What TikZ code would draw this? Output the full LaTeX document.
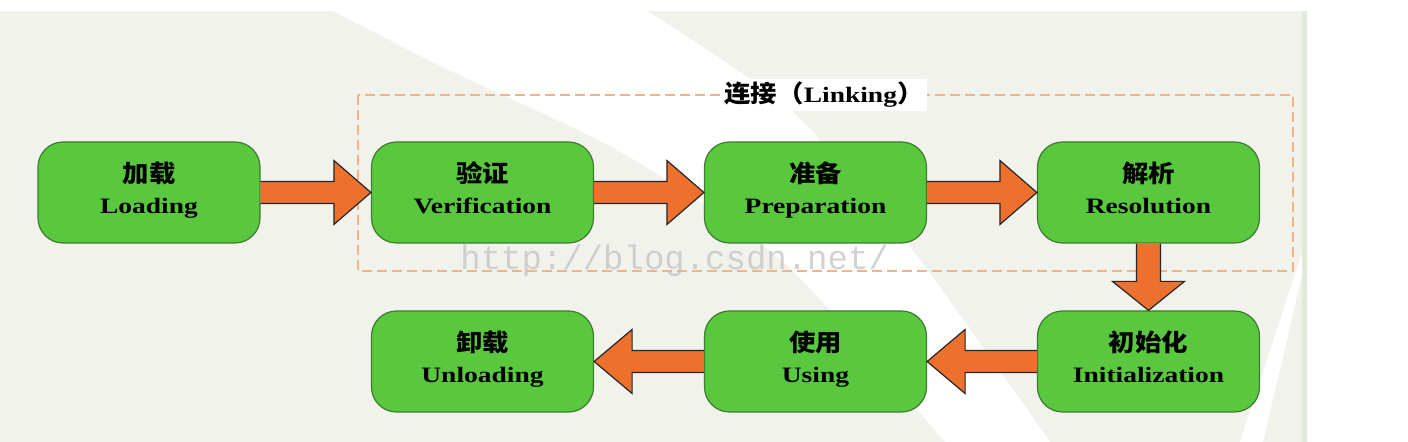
\documentclass[tikz,border=0pt]{standalone}
\usepackage{fontspec}
\usepackage{tikz}
\usetikzlibrary{calc}
\setmainfont{Liberation Serif}
\newfontfamily\boxfont{Liberation Serif}[FakeStretch=1.25]
\newfontfamily\cjk{Noto Sans CJK SC}[FakeStretch=1.1]
\newfontfamily\markfont{Liberation Mono}
\newcommand\zh[1]{{\cjk\fontsize{12}{15.5}\selectfont #1}}
\definecolor{StageGreen}{RGB}{90,200,62}
\definecolor{StageBorder}{RGB}{60,125,45}
\definecolor{ArrowOrange}{RGB}{238,112,45}
\definecolor{LinkDash}{RGB}{245,178,130}
\definecolor{PanelGray}{RGB}{242,242,237}
\definecolor{PanelEdge}{RGB}{224,234,216}

\begin{document}
\begin{tikzpicture}[x=0.5pt, y=-0.5pt,
    stage/.style={draw=StageBorder, fill=StageGreen, line width=0.6pt, rounded corners=12.5pt,
        minimum width=111pt, minimum height=50.5pt, inner sep=0pt, align=center,
        font=\boxfont\bfseries\fontsize{11}{15.5}\selectfont,
        execute at begin node=\strut, execute at end node=\strut},
    blockarrow/.style={draw=black!85, fill=ArrowOrange, line width=0.6pt, line join=miter}]
    \useasboundingbox (0,0) rectangle (1408,442);
    %%Background
    \fill[PanelGray] (0,11) rectangle (1302,442);
    \fill[PanelEdge] (1302,11) rectangle (1307,442);
    \fill[white] plot[smooth] coordinates {(333,11) (443,67) (617,150) (760,243) (827,307) (945,442)}
        -- plot[smooth] coordinates {(1050,442) (907,243) (790,110) (647,11)} -- cycle;
    \fill[white] (1302,253) -- (1240,442) -- (1263,442) -- (1302,275) -- cycle;
    %%Linking frame
    \draw[LinkDash, line width=1pt, dash pattern=on 5pt off 2.5pt] (358,95) rectangle (1293,271);
    \node[fill=white, inner xsep=2pt, inner ysep=0pt, minimum height=16pt,
        font=\boxfont\bfseries\fontsize{11}{15.5}\selectfont] (linking) at (824,95) {\zh{连接（}Linking\zh{）}};
    %%Stages
    \node[stage] (load) at (149,192.5) {\zh{加载}\\Loading};
    \node[stage] (verif) at (482.5,192.5) {\zh{验证}\\Verification};
    \node[stage] (prep) at (815.5,192.5) {\zh{准备}\\Preparation};
    \node[stage] (resol) at (1148.5,192.5) {\zh{解析}\\Resolution};
    \node[stage] (init) at (1148.5,361.5) {\zh{初始化}\\Initialization};
    \node[stage] (using) at (815.5,361.5) {\zh{使用}\\Using};
    \node[stage] (unload) at (482.5,361.5) {\zh{卸载}\\Unloading};
    %%Top row arrows
    \draw[blockarrow] ($(load.east)+(0,-11)$) -- ($(verif.west)+(-37,-11)$) -- ($(verif.west)+(-37,-32)$) -- (verif.west) -- ($(verif.west)+(-37,32)$) -- ($(verif.west)+(-37,11)$) -- ($(load.east)+(0,11)$);
    \draw[blockarrow] ($(verif.east)+(0,-11)$) -- ($(prep.west)+(-37,-11)$) -- ($(prep.west)+(-37,-32)$) -- (prep.west) -- ($(prep.west)+(-37,32)$) -- ($(prep.west)+(-37,11)$) -- ($(verif.east)+(0,11)$);
    \draw[blockarrow] ($(prep.east)+(0,-11)$) -- ($(resol.west)+(-37,-11)$) -- ($(resol.west)+(-37,-32)$) -- (resol.west) -- ($(resol.west)+(-37,32)$) -- ($(resol.west)+(-37,11)$) -- ($(prep.east)+(0,11)$);
    %%Down arrow
    \draw[blockarrow] ($(resol.south)+(-12,0)$) -- ($(init.north)+(-12,-29)$) -- ($(init.north)+(-36,-29)$) -- (init.north) -- ($(init.north)+(36,-29)$) -- ($(init.north)+(12,-29)$) -- ($(resol.south)+(12,0)$);
    %%Bottom row arrows
    \draw[blockarrow] ($(init.west)+(0,-11)$) -- ($(using.east)+(38,-11)$) -- ($(using.east)+(38,-32)$) -- (using.east) -- ($(using.east)+(38,32)$) -- ($(using.east)+(38,11)$) -- ($(init.west)+(0,11)$);
    \draw[blockarrow] ($(using.west)+(0,-11)$) -- ($(unload.east)+(38,-11)$) -- ($(unload.east)+(38,-32)$) -- (unload.east) -- ($(unload.east)+(38,32)$) -- ($(unload.east)+(38,11)$) -- ($(using.west)+(0,11)$);
    %%Watermark
    \node[text=gray!50, opacity=0.7, anchor=base west, inner sep=0pt,
        font=\markfont\fontsize{17}{17}\selectfont] (mark) at (460,270) {http://blog.csdn.net/};
\end{tikzpicture}
\end{document}
